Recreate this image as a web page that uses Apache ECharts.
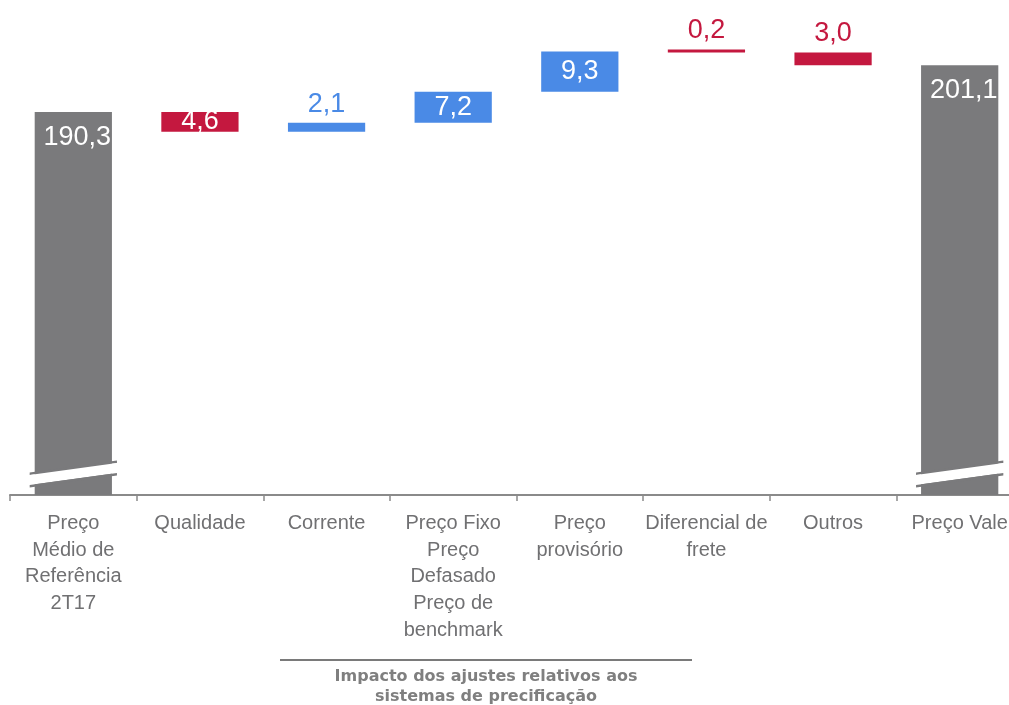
<!DOCTYPE html>
<html>
<head>
<meta charset="utf-8">
<script src="https://cdn.jsdelivr.net/npm/echarts@6/dist/echarts.min.js"></script>
<style>
  html, body { margin: 0; padding: 0; background: #ffffff; }
  #chart { width: 1009px; height: 705px; }
</style>
</head>
<body>
<div id="chart"></div>
<script>
// Categories along the bridge, from the reference price to the realised price
const categories = [
  'Preço\nMédio de\nReferência\n2T17',
  'Qualidade',
  'Corrente',
  'Preço Fixo\nPreço\nDefasado\nPreço de\nbenchmark',
  'Preço\nprovisório',
  'Diferencial de\nfrete',
  'Outros',
  'Preço Vale'
];
// Opening and closing totals (US$/t)
const openingPrice = 190.3;
const closingPrice = 201.1;
// Adjustments between the two totals, in category order (categories 1..6)
const adjustments = [-4.6, 2.1, 7.2, 9.3, -0.2, -3.0];

// Value axis is broken: it starts well above zero
const AXIS_MIN = 101.4;
const AXIS_MAX = 210;
const BREAK_AT = 106.3;      // where the break mark crosses the total bars
const BAR_RATIO = 0.61;

const GREY = '#7a7a7c';
const RED = '#c4183f';
const BLUE = '#4a8ae6';
const TEXT = '#707072';
const LABEL_FONT = 'Liberation Sans, Arial, sans-serif';

const fmt = v => Math.abs(v).toFixed(1).replace('.', ',');

// Build the invisible base, the totals and the up/down steps
const n = categories.length;
const baseData = new Array(n).fill('-');
const totalData = new Array(n).fill('-');
const riseData = new Array(n).fill('-');
const fallData = new Array(n).fill('-');

baseData[0] = AXIS_MIN;
totalData[0] = { value: openingPrice - AXIS_MIN, shown: openingPrice };
baseData[n - 1] = AXIS_MIN;
totalData[n - 1] = { value: closingPrice - AXIS_MIN, shown: closingPrice };

let running = openingPrice;
adjustments.forEach((d, i) => {
  const idx = i + 1;
  const big = Math.abs(d) >= 4;
  const color = d > 0 ? BLUE : RED;
  const item = {
    value: Math.abs(d),
    shown: d,
    label: big
      ? { position: 'inside', color: '#ffffff' }
      : { position: 'top', distance: 5, color: color }
  };
  if (d > 0) {
    baseData[idx] = running;
    riseData[idx] = item;
  } else {
    baseData[idx] = running + d;
    fallData[idx] = item;
  }
  running += d;
});

const stepLabel = {
  show: true,
  fontFamily: LABEL_FONT,
  fontSize: 27,
  formatter: p => fmt(p.data.shown)
};

// Slanted break mark drawn across the total bars
function renderBreak(params, api) {
  const c = api.coord([api.value(0), api.value(1)]);
  const half = api.size([1, 0])[0] * BAR_RATIO / 2 + 5;
  const L = c[0] - half, R = c[0] + half;
  const tilt = 6, gap = 5, edge = 2.5;
  const band = (a, b, fill) => ({
    type: 'polygon',
    shape: { points: [[L, c[1] + tilt + a], [R, c[1] - tilt + a], [R, c[1] - tilt + b], [L, c[1] + tilt + b]] },
    style: { fill: fill }
  });
  return {
    type: 'group',
    children: [
      band(-gap - edge, -gap, GREY),
      band(-gap, gap, '#ffffff'),
      band(gap, gap + edge, GREY)
    ]
  };
}

const chart = echarts.init(document.getElementById('chart'), null, { renderer: 'canvas' });

chart.setOption({
  animation: false,
  backgroundColor: '#ffffff',
  grid: {
    left: 10,
    top: 27,
    bottom: 210,
    width: 1013,
    containLabel: false,
    outerBoundsMode: 'none'
  },
  xAxis: {
    type: 'category',
    data: categories,
    boundaryGap: true,
    axisLine: { show: true, lineStyle: { color: '#8a8a8a', width: 2 } },
    axisTick: { show: true, length: 6, lineStyle: { color: '#8a8a8a', width: 1.5 } },
    axisLabel: {
      interval: 0,
      margin: 15,
      color: TEXT,
      fontFamily: LABEL_FONT,
      fontSize: 20,
      lineHeight: 26.7,
      align: 'center'
    },
    splitLine: { show: false }
  },
  yAxis: {
    type: 'value',
    min: AXIS_MIN,
    max: AXIS_MAX,
    show: false,
    splitLine: { show: false }
  },
  series: [
    {
      name: 'base',
      type: 'bar',
      stack: 'bridge',
      barWidth: (BAR_RATIO * 100) + '%',
      itemStyle: { color: 'transparent' },
      emphasis: { disabled: true },
      silent: true,
      data: baseData
    },
    {
      name: 'total',
      type: 'bar',
      stack: 'bridge',
      barWidth: (BAR_RATIO * 100) + '%',
      itemStyle: { color: GREY },
      label: {
        show: true,
        position: 'insideTop',
        distance: 12,
        offset: [4, 0],
        color: '#ffffff',
        fontFamily: LABEL_FONT,
        fontSize: 27,
        formatter: p => fmt(p.data.shown)
      },
      data: totalData
    },
    {
      name: 'rise',
      type: 'bar',
      stack: 'bridge',
      barWidth: (BAR_RATIO * 100) + '%',
      itemStyle: { color: BLUE },
      label: stepLabel,
      data: riseData
    },
    {
      name: 'fall',
      type: 'bar',
      stack: 'bridge',
      barWidth: (BAR_RATIO * 100) + '%',
      barMinHeight: 3,
      itemStyle: { color: RED },
      label: stepLabel,
      data: fallData
    },
    {
      name: 'break',
      type: 'custom',
      renderItem: renderBreak,
      encode: { x: 0, y: 1 },
      z: 10,
      silent: true,
      data: [[0, BREAK_AT], [n - 1, BREAK_AT]]
    }
  ],
  graphic: [
    {
      type: 'line',
      shape: { x1: 280, y1: 660, x2: 692, y2: 660 },
      style: { stroke: '#7a7a7a', lineWidth: 2 }
    },
    {
      type: 'text',
      x: 486,
      y: 667,
      style: {
        text: 'Impacto dos ajustes relativos aos\nsistemas de precificação',
        fill: '#7f7f7f',
        font: 'bold 16px "DejaVu Sans", Verdana, sans-serif',
        lineHeight: 20,
        align: 'center',
        verticalAlign: 'top'
      }
    }
  ]
});
</script>
</body>
</html>
